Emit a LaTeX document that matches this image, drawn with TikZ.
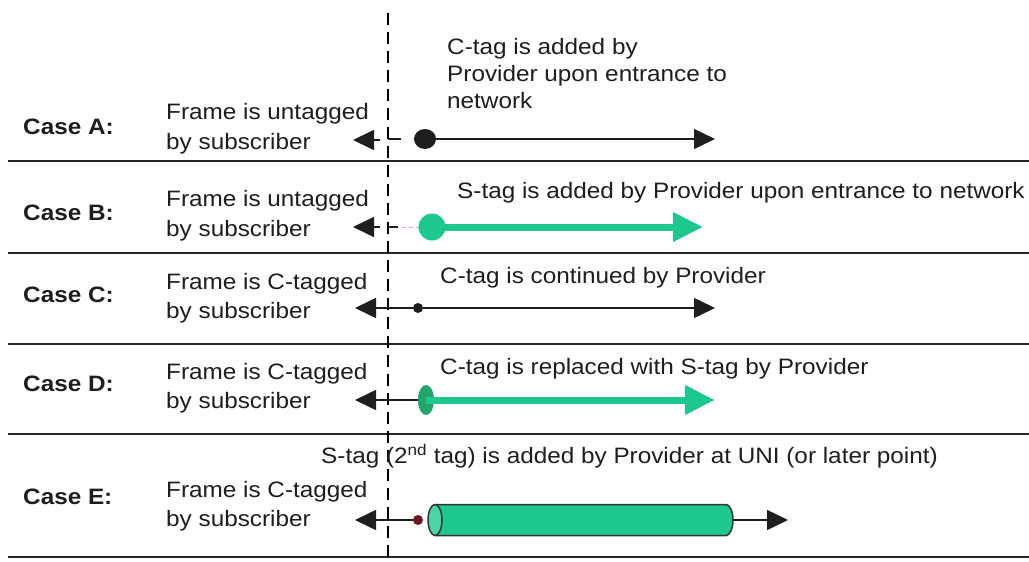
\documentclass[tikz,border=0pt]{standalone}
\usepackage{fontspec}
\setmainfont{Liberation Sans}[FakeStretch=1.09]
\usetikzlibrary{arrows.meta,shapes.geometric}
\definecolor{sgreen}{RGB}{30,200,140}
\definecolor{dgreen}{RGB}{35,165,110}
\definecolor{dred}{RGB}{110,20,35}
\definecolor{ink}{RGB}{30,30,30}
\begin{document}
\begin{tikzpicture}[x=1pt,y=-1pt,
  txt/.style={anchor=base west, inner sep=0pt, text=ink, font=\fontsize{22.3}{26}\selectfont},
  casetxt/.style={anchor=base west, inner sep=0pt, text=ink, font=\fontsize{22.3}{26}\selectfont\bfseries},
  sepline/.style={line width=2pt, draw=black!85},
  axis/.style={line width=2.8pt, dash pattern=on 12pt off 7pt},
  blk/.style={line width=1.5pt, draw=ink},
  lhead/.style={-{Triangle[length=21pt,width=20pt]}},
  garrow/.style={draw=sgreen, line width=7pt, -{Triangle[length=30pt,width=28pt,fill=sgreen]}},
  dotnode/.style={circle, inner sep=0pt, fill=ink},
  cylline/.style={draw=black!80, line width=1.5pt},
]
\useasboundingbox (0,0) rectangle (1029,562);
\fill[white] (0,0) rectangle (1029,562);

% separators
\foreach \y/\n in {160.5/1,253/2,343.5/3,434/4,557/5}{
  \coordinate (sl\n) at (8,\y);
  \coordinate (sr\n) at (1029,\y);
  \draw[sepline] (sl\n) -- (sr\n);
}
% dashed axis
\coordinate (axT) at (388,13);
\coordinate (axB) at (388,562);
\draw[axis] (axT) -- (axB);

% case labels
\node[casetxt] (caseA) at (23,134) {Case A:};
\node[casetxt] (caseB) at (23,220) {Case B:};
\node[casetxt] (caseC) at (23,302) {Case C:};
\node[casetxt] (caseD) at (23,391) {Case D:};
\node[casetxt] (caseE) at (23,504) {Case E:};

% left texts
\node[txt] (fA1) at (166,119) {Frame is untagged};
\node[txt] (fA2) at (166,149) {by subscriber};
\node[txt] (fB1) at (166,206) {Frame is untagged};
\node[txt] (fB2) at (166,236) {by subscriber};
\node[txt] (fC1) at (166,289) {Frame is C-tagged};
\node[txt] (fC2) at (166,318) {by subscriber};
\node[txt] (fD1) at (166,379) {Frame is C-tagged};
\node[txt] (fD2) at (166,408) {by subscriber};
\node[txt] (fE1) at (166,497) {Frame is C-tagged};
\node[txt] (fE2) at (166,526) {by subscriber};

% right texts
\node[txt] (tA1) at (447,54) {C-tag is added by};
\node[txt] (tA2) at (447,81) {Provider upon entrance to};
\node[txt] (tA3) at (447,108) {network};
\node[txt] (tB) at (457,198) {S-tag is added by Provider upon entrance to network};
\node[txt] (tC) at (440,283) {C-tag is continued by Provider};
\node[txt] (tD) at (440,374) {C-tag is replaced with S-tag by Provider};
\node[txt] (tE) at (321,463) {S-tag (2\textsuperscript{nd} tag) is added by Provider at UNI (or later point)};

% ---- Case A ----
\coordinate (aLs) at (380,140);
\coordinate (aLt) at (353,140);
\draw[blk, lhead] (aLs) -- (aLt);
\coordinate (aS1) at (388,139);
\coordinate (aS2) at (401,139);
\draw[line width=2pt, draw=ink] (aS1) -- (aS2);
\node[dotnode, minimum width=22pt, minimum height=20pt, ellipse] (dotA) at (425,139) {};
\coordinate (aR) at (715,139);
\draw[blk, lhead] (dotA) -- (aR);

% ---- Case B ----
\coordinate (bLs) at (380,227);
\coordinate (bLt) at (353,227);
\draw[blk, lhead] (bLs) -- (bLt);
\coordinate (bS1) at (388,227);
\coordinate (bS2) at (398,227);
\draw[line width=2pt, draw=ink] (bS1) -- (bS2);
\coordinate (bP1) at (402,227);
\coordinate (bP2) at (420,227);
\draw[line width=1pt, draw=red!35, dash pattern=on 4pt off 3pt] (bP1) -- (bP2);
\node[circle, inner sep=0pt, minimum size=27pt, fill=sgreen] (ovB) at (432,227) {};
\coordinate (bR) at (703,227);
\draw[garrow] (ovB.center) -- (bR);

% ---- Case C ----
\node[dotnode, minimum size=10pt] (dotC) at (418,308) {};
\coordinate (cLt) at (355,308);
\draw[blk, lhead] (dotC) -- (cLt);
\coordinate (cR) at (715,308);
\draw[blk, lhead] (dotC) -- (cR);

% ---- Case D ----
\node[ellipse, inner sep=0pt, minimum width=16pt, minimum height=30pt, fill=dgreen] (ovD) at (426,400) {};
\coordinate (dLt) at (355,400);
\draw[blk, lhead] (ovD) -- (dLt);
\coordinate (dR) at (715,400);
\draw[garrow] (ovD.center) -- (dR);

% ---- Case E ----
\node[dotnode, fill=dred, minimum size=10pt] (dotE) at (418,520) {};
\coordinate (eLt) at (355,520);
\draw[blk, lhead] (dotE) -- (eLt);
% cylinder
\fill[sgreen] (435,504.5) rectangle (726,535.5);
\fill[sgreen] (726,520) ellipse [x radius=7, y radius=15.5];
\draw[cylline] (435,504.5) -- (726,504.5) arc[start angle=-90, end angle=90, x radius=7, y radius=15.5] -- (435,535.5);
\draw[cylline, fill=sgreen!80!white] (435,520) ellipse [x radius=7, y radius=15.5];
\coordinate (eRs) at (733,520);
\coordinate (eR) at (788,520);
\draw[blk, lhead] (eRs) -- (eR);
\end{tikzpicture}
\end{document}
